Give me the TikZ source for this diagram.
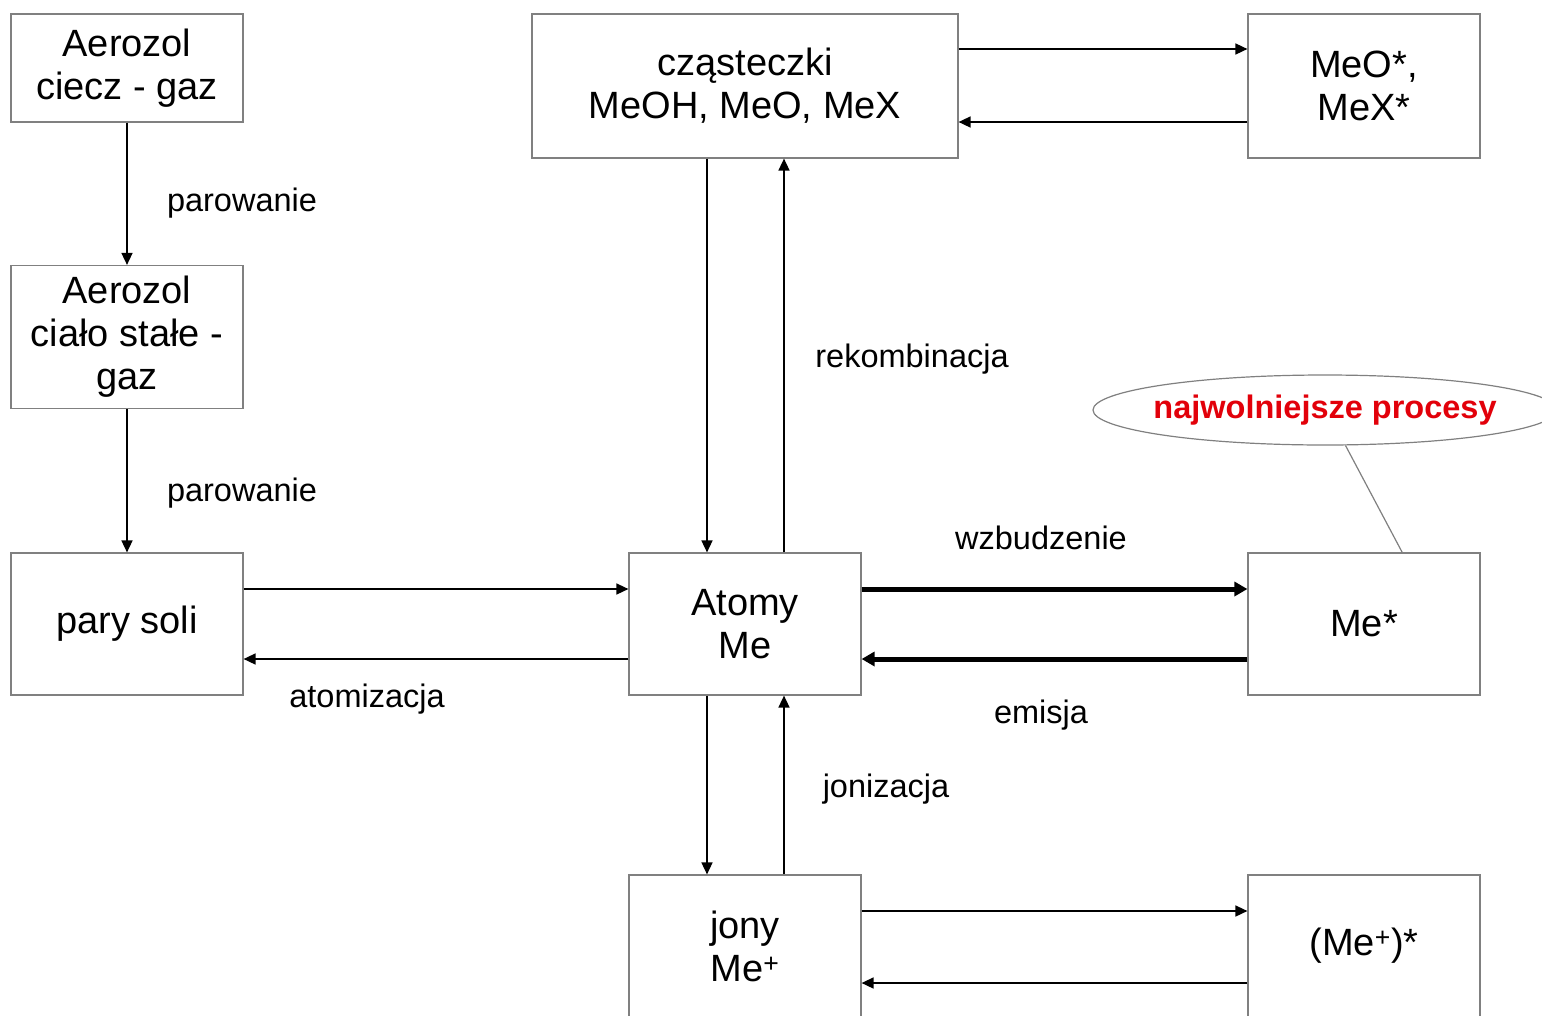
\documentclass[tikz,border=0pt]{standalone}
\usepackage{fontspec}
\setmainfont{Liberation Sans}
\usetikzlibrary{arrows.meta,shapes.geometric}
\definecolor{callred}{RGB}{226,0,10}
\tikzset{
  box/.style={draw=black!50, line width=1.2pt, inner sep=0pt, align=center,
    font=\fontsize{38}{43}\selectfont},
  lbl/.style={inner sep=0pt, font=\fontsize{32.5}{36}\selectfont},
  arr/.style={line width=1.6pt, -{Triangle[length=12pt,width=11pt]}},
  thick arr/.style={line width=5pt, -{Triangle[length=13pt,width=14pt]}},
}
\begin{document}
\begin{tikzpicture}[x=1pt,y=-1pt]
\clip (0,0) rectangle (1542,1015);
\fill[white] (0,0) rectangle (1542,1015);
% boxes
\node[box, minimum width=232pt, minimum height=108pt] (a1) at (127,68) {Aerozol\\ciecz - gaz};
\node[box, minimum width=232pt, minimum height=143pt] (a2) at (127,337) {Aerozol\\ciało stałe -\\gaz};
\node[box, minimum width=232pt, minimum height=142pt] (pary) at (127,624) {pary soli};
\node[box, minimum width=426pt, minimum height=144pt] (czast) at (745,86) {cząsteczki\\MeOH, MeO, MeX};
\node[box, minimum width=232pt, minimum height=144pt] (meo) at (1364,86) {MeO*,\\MeX*};
\node[box, minimum width=232pt, minimum height=142pt] (atomy) at (745,624) {Atomy\\Me};
\node[box, minimum width=232pt, minimum height=142pt] (mestar) at (1364,624) {Me*};
\node[box, minimum width=232pt, minimum height=142pt] (jony) at (745,946) {jony\\Me\textsuperscript{+}};
\node[box, minimum width=232pt, minimum height=142pt] (mepstar) at (1364,946) {(Me\textsuperscript{+})*};
% callout
\node[ellipse, draw=black!50, line width=1.2pt, minimum width=464pt, minimum height=70pt,
  inner xsep=-8pt, inner ysep=0pt, text=callred, font=\bfseries\fontsize{32.5}{36}\selectfont] (callout) at (1325,410) {najwolniejsze procesy};
\coordinate (calltip) at (1402,552);
\draw[black!50, line width=1.2pt] (callout.-60) -- (calltip);
% arrows
\draw[arr] (a1) -- (a2);
\draw[arr] (a2) -- (pary);
\draw[arr] ([yshift=35pt]pary.east) -- ([yshift=35pt]atomy.west);
\draw[arr] ([yshift=-35pt]atomy.west) -- ([yshift=-35pt]pary.east);
\draw[arr] ([xshift=-38pt]czast.south) -- ([xshift=-38pt]atomy.north);
\draw[arr] ([xshift=39pt]atomy.north) -- ([xshift=39pt]czast.south);
\draw[arr] ([yshift=37pt]czast.east) -- ([yshift=37pt]meo.west);
\draw[arr] ([yshift=-36pt]meo.west) -- ([yshift=-36pt]czast.east);
\draw[thick arr] ([yshift=35pt]atomy.east) -- ([yshift=35pt]mestar.west);
\draw[thick arr] ([yshift=-35pt]mestar.west) -- ([yshift=-35pt]atomy.east);
\draw[arr] ([xshift=-38pt]atomy.south) -- ([xshift=-38pt]jony.north);
\draw[arr] ([xshift=39pt]jony.north) -- ([xshift=39pt]atomy.south);
\draw[arr] ([yshift=35pt]jony.east) -- ([yshift=35pt]mepstar.west);
\draw[arr] ([yshift=-37pt]mepstar.west) -- ([yshift=-37pt]jony.east);
% labels
\node[lbl] (l1) at (242,203) {parowanie};
\node[lbl] (l2) at (242,493) {parowanie};
\node[lbl] (l3) at (912,359) {rekombinacja};
\node[lbl] (l4) at (1041,538) {wzbudzenie};
\node[lbl] (l5) at (1041,715) {emisja};
\node[lbl] (l6) at (367,699) {atomizacja};
\node[lbl] (l7) at (886,789) {jonizacja};
\end{tikzpicture}
\end{document}
